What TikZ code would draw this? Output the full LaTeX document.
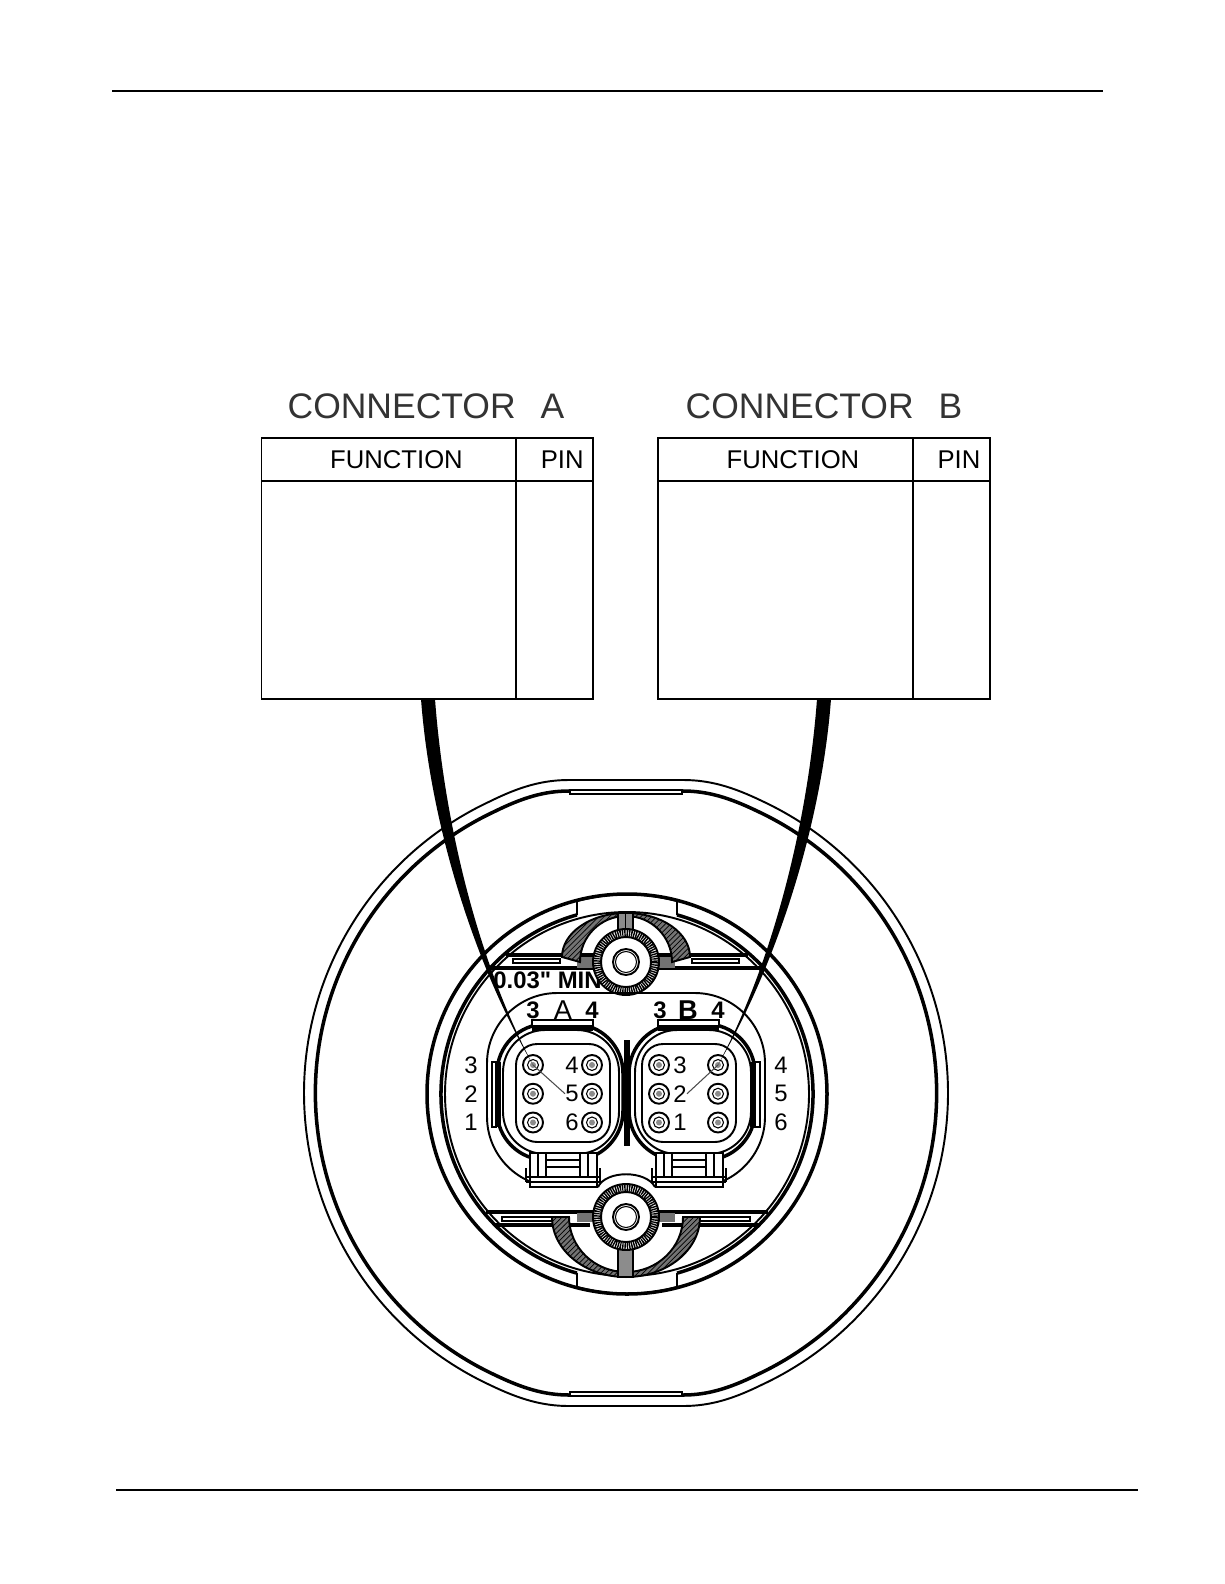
\documentclass[tikz,border=0pt]{standalone}
\usepackage{fontspec}
\setmainfont[Ligatures=TeXOff]{Liberation Sans}
\usepackage{tikz}
\usetikzlibrary{positioning, patterns}

\tikzset{
  lnthin/.style={line width=.6pt},
  lnmid/.style={line width=1.1pt},
  lnthick/.style={line width=2pt},
  title/.style={font=\fontsize{20.2}{24}\selectfont, text=black!80, inner sep=0pt},
  headtxt/.style={font=\fontsize{14.6}{18}\selectfont},
  cell/.style={draw, line width=1.1pt, outer sep=0pt, inner sep=0pt},
  pinnum/.style={font=\fontsize{13.6}{16}\selectfont, inner sep=0pt},
  marknum/.style={font=\bfseries\fontsize{13.6}{16}\selectfont, inner sep=0pt},
  hole/.style={circle, draw, lnmid, fill=white, minimum size=.4cm, inner sep=0pt,
    path picture={
      \draw[lnthin] (path picture bounding box.center) circle (.11cm);
      \fill[black!45] (path picture bounding box.center) circle (.06cm);
    }},
  cable/.style={fill=black},
  hatch/.style={lnmid, preaction={fill=black!55}, pattern=north east lines},
  shell/.pic={
    \draw[lnthick, rounded corners=28] (497,1024) rectangle (623,1160);
    \draw[lnmid, rounded corners=24] (503,1030) rectangle (619,1154);
  },
  latch/.pic={
    % top tab
    \fill (532,1026) rectangle (593,1031);
    \draw[lnmid, fill=white] (532,1020) rectangle (593,1026);
    % bottom clip
    \draw[lnmid, fill=white] (530,1153) rectangle (597,1187);
    \draw[lnmid] (538,1153) -- (538,1177) (546,1153) -- (546,1177)
      (580,1153) -- (580,1177) (588,1153) -- (588,1177)
      (546,1160) -- (580,1160) (546,1167) -- (580,1167)
      (526,1177) -- (600,1177) (526,1182) -- (600,1182)
      (526,1168) -- (526,1182) (600,1168) -- (600,1182);
  },
  screw/.pic={
    \fill[white] (0,0) circle (33);
    \draw[line width=4.5pt, dash pattern=on .8pt off .5pt] (0,0) circle (29);
    \draw[lnmid] (0,0) circle (33);
    \draw[lnmid] (0,0) circle (25);
    \draw[lnmid] (0,0) circle (13);
    \draw[lnthin] (0,0) circle (10.5);
  }
}

\begin{document}
\begin{tikzpicture}[x=0.02cm, y=-0.02cm, node distance=0.575cm, on grid]
  \useasboundingbox (0,0) rectangle (1224,1584);
  \fill[white] (0,0) rectangle (1224,1584);

  % page rules
  \coordinate (ruleTl) at (112,91);
  \coordinate (ruleTr) at (1103,91);
  \coordinate (ruleBl) at (116,1490);
  \coordinate (ruleBr) at (1138,1490);
  \draw[line width=1.2pt] (ruleTl) -- (ruleTr);
  \draw[lnmid] (ruleBl) -- (ruleBr);

  % tables
  \node[title] (ttlA) at (426,406) {CONNECTOR\hspace{.5cm}A};
  \node[title] (ttlB) at (824,406) {CONNECTOR\hspace{.5cm}B};

  \node[cell, headtxt, anchor=north west, minimum width=5.1cm, minimum height=.86cm] (fnA) at (261.5,438) {\hspace*{.3cm}FUNCTION};
  \node[cell, headtxt, anchor=north west, minimum width=1.53cm, minimum height=.86cm] (pnA) at (fnA.north east) {\hspace*{.3cm}PIN};
  \node[cell, anchor=north west, minimum width=5.1cm, minimum height=4.36cm] (bfA) at (fnA.south west) {};
  \node[cell, anchor=north west, minimum width=1.53cm, minimum height=4.36cm] (bpA) at (fnA.south east) {};

  \node[cell, headtxt, anchor=north west, minimum width=5.1cm, minimum height=.86cm] (fnB) at (658,438) {\hspace*{.3cm}FUNCTION};
  \node[cell, headtxt, anchor=north west, minimum width=1.54cm, minimum height=.86cm] (pnB) at (fnB.north east) {\hspace*{.3cm}PIN};
  \node[cell, anchor=north west, minimum width=5.1cm, minimum height=4.36cm] (bfB) at (fnB.south west) {};
  \node[cell, anchor=north west, minimum width=1.54cm, minimum height=4.36cm] (bpB) at (fnB.south east) {};

  % outer flange
  \draw[lnmid] (683,780) .. controls (710,780) and (733,787) .. (762,801)
    arc[start angle=-65, end angle=65, radius=322]
    .. controls (733,1399) and (710,1406) .. (683,1406) -- (569,1406)
    .. controls (542,1406) and (519,1399) .. (490,1385)
    arc[start angle=115, end angle=245, radius=322]
    .. controls (519,787) and (542,780) .. (569,780) -- cycle;
  \draw[lnthick] (683,791) .. controls (708,791) and (730,798) .. (757,811)
    arc[start angle=-65, end angle=65, radius=311]
    .. controls (730,1388) and (708,1395) .. (683,1395) -- (569,1395)
    .. controls (544,1395) and (522,1388) .. (495,1375)
    arc[start angle=115, end angle=245, radius=311]
    .. controls (522,798) and (544,791) .. (569,791) -- cycle;
  \draw[lnthin, fill=white] (570,790) rectangle (682,794);
  \draw[lnthin, fill=white] (570,1392) rectangle (682,1396);

  % mounting face
  \draw[lnthick] (627,1094) circle (200);
  \draw[lnthick] (627,1094) ++(-74.4:186) arc[start angle=-74.4, end angle=74.4, radius=186];
  \draw[lnthick] (627,1094) ++(105.6:186) arc[start angle=105.6, end angle=254.4, radius=186];
  \draw[lnmid] (627,1094) circle (182);
  \draw[lnmid] (577,915) -- (577,901) arc[start angle=-105.1, end angle=-74.9, radius=192] -- (677,915);
  \draw[lnmid] (577,1273) -- (577,1287) arc[start angle=105.1, end angle=74.9, radius=192] -- (677,1273);

  % horizontal bands
  \draw[lnthick] (506,955) -- (748,955);
  \draw[lnthick] (490,968) -- (764,968);
  \draw[lnthin] (513,959) rectangle (560,963);
  \draw[lnthin] (692,959) rectangle (739,963);
  \draw[lnthick] (486,1212) -- (768,1212);
  \draw[lnthick] (495,1225) -- (590,1225);
  \draw[lnthick] (662,1225) -- (759,1225);
  \draw[lnthin] (502,1217) rectangle (555,1221);
  \draw[lnthin] (697,1217) rectangle (750,1221);
  \fill[black!55] (577,957) rectangle (594,968);
  \fill[black!55] (658,957) rectangle (675,968);
  \fill[black!55] (577,1213) rectangle (594,1222);
  \fill[black!55] (658,1213) rectangle (675,1222);

  % lock arcs
  \draw[hatch] (562,957) arc[start angle=180, end angle=270, x radius=64, y radius=44] -- (626,916)
    arc[start angle=270, end angle=180, radius=46] -- cycle;
  \draw[hatch] (690,957) arc[start angle=0, end angle=-90, x radius=64, y radius=44] -- (626,916)
    arc[start angle=-90, end angle=0, radius=46] -- cycle;
  \draw[hatch] (552,1217) arc[start angle=180, end angle=90, x radius=74, y radius=60] -- (626,1272)
    arc[start angle=90, end angle=180, x radius=57, y radius=55] -- cycle;
  \draw[hatch] (700,1217) arc[start angle=0, end angle=90, x radius=74, y radius=60] -- (626,1272)
    arc[start angle=90, end angle=0, x radius=57, y radius=55] -- cycle;
  \draw[lnmid, fill=black!45] (618,913) rectangle (633,932);
  \draw[lnmid] (625.5,913) -- (625.5,932);
  \draw[lnmid, fill=black!45] (618,1243) rectangle (633,1277);

  \node[marknum, anchor=west] (minTxt) at (493,980) {0.03" MIN};

  \pic (boltT) at (626,962) {screw};
  \pic (boltB) at (626,1217) {screw};

  % panel and housings
  \draw[lnmid, rounded corners=40] (598,1187) -- (487,1187) -- (487,993) -- (765,993) -- (765,1187) -- (655,1187);
  \draw[lnmid] (598,1187) .. controls (606,1170) and (646,1170) .. (655,1187);

  \pic (shellA) at (0,0) {shell};
  \pic (shellB) at (132,0) {shell};
  \fill (624,1040) rectangle (630,1146);
  \draw[lnmid, fill=white] (492,1062) rectangle (496,1127);
  \fill (496,1062) rectangle (501,1127);
  \draw[lnmid, fill=white] (755,1062) rectangle (760,1127);
  \fill (750,1062) rectangle (755,1127);

  \pic (markA) at (0,0) {latch};
  \pic (markB) at (126,0) {latch};

  \draw[lnmid, rounded corners=12] (516,1044) rectangle (610,1142);
  \draw[lnmid, rounded corners=12] (642,1044) rectangle (736,1142);

  % connector A pins
  \node[hole] (pA3) at (533,1065) {};
  \node[hole] (pA2) [below=of pA3] {};
  \node[hole] (pA1) [below=of pA2] {};
  \node[hole] (pA4) at (592,1065) {};
  \node[hole] (pA5) [below=of pA4] {};
  \node[hole] (pA6) [below=of pA5] {};

  % connector B pins
  \node[hole] (pB3) at (659,1065) {};
  \node[hole] (pB2) [below=of pB3] {};
  \node[hole] (pB1) [below=of pB2] {};
  \node[hole] (pB4) at (718,1065) {};
  \node[hole] (pB5) [below=of pB4] {};
  \node[hole] (pB6) [below=of pB5] {};

  % pin numbers
  \node[pinnum] (nA3) [left=1.24cm of pA3] {3};
  \node[pinnum] (nA2) [left=1.24cm of pA2] {2};
  \node[pinnum] (nA1) [left=1.24cm of pA1] {1};
  \node[pinnum] (nA4) [left=.4cm of pA4] {4};
  \node[pinnum] (nA5) [left=.4cm of pA5] {5};
  \node[pinnum] (nA6) [left=.4cm of pA6] {6};
  \node[pinnum] (nB3) [right=.42cm of pB3] {3};
  \node[pinnum] (nB2) [right=.42cm of pB2] {2};
  \node[pinnum] (nB1) [right=.42cm of pB1] {1};
  \node[pinnum] (nB4) [right=1.26cm of pB4] {4};
  \node[pinnum] (nB5) [right=1.26cm of pB5] {5};
  \node[pinnum] (nB6) [right=1.26cm of pB6] {6};

  % marks above the housings
  \node[marknum] (mA3) at (533,1010) {3};
  \node[pinnum] (mA) at (563,1010) {\fontsize{15.5}{16}\selectfont A};
  \node[marknum] (mA4) at (592,1010) {4};
  \node[marknum] (mB3) at (660,1010) {3};
  \node[marknum] (mB) at (688,1010) {\fontsize{15.5}{16}\selectfont B};
  \node[marknum] (mB4) at (718,1010) {4};

  % cables
  \coordinate (cabAl) at (421,699);
  \coordinate (cabAr) at (435,699);
  \coordinate (cabBl) at (817,699);
  \coordinate (cabBr) at (831,699);
  \fill[cable] (cabAl) .. controls (430,820) and (472,960) .. (pA3.center)
    .. controls (477,960) and (444,820) .. (cabAr) -- cycle;
  \fill[cable] (cabBr) .. controls (822,820) and (779,960) .. (pB4.center)
    .. controls (774,960) and (808,820) .. (cabBl) -- cycle;
  \draw[lnthin, black!70] (pA3.center) -- (nA5.west);
  \draw[lnthin, black!70] (pB4.center) -- (nB2.east);
\end{tikzpicture}
\end{document}
